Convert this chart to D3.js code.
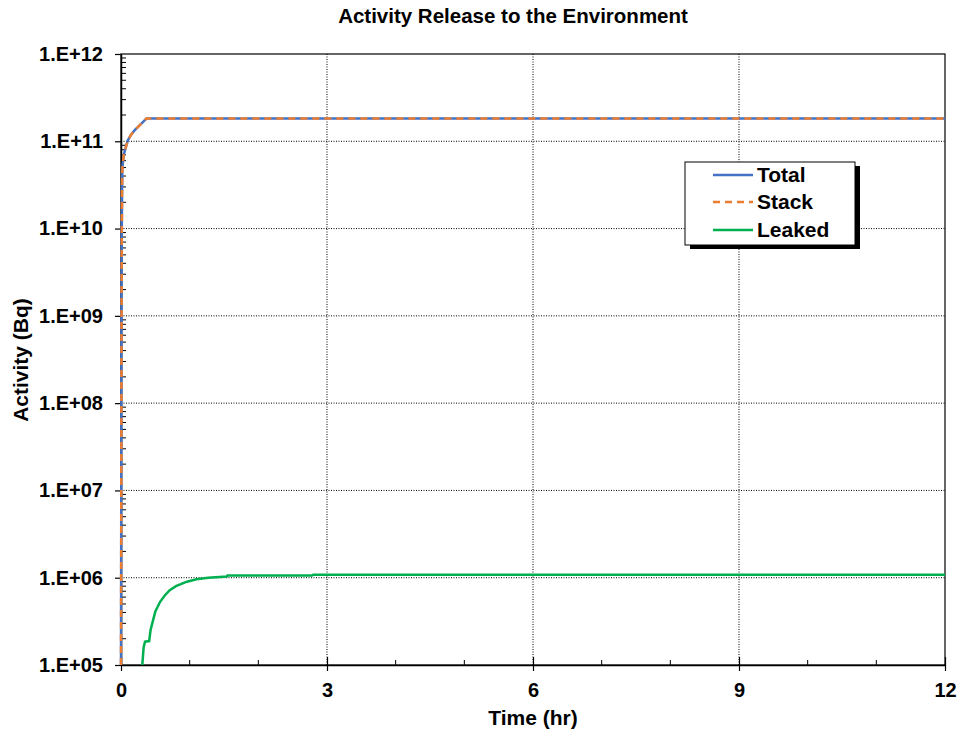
<!DOCTYPE html>
<html>
<head>
<meta charset="utf-8">
<script src="https://cdn.jsdelivr.net/npm/d3@7"></script>
<style>
  html, body { margin: 0; padding: 0; background: #fff; }
  svg { display: block; }
  text { font-family: "Liberation Sans", Arial, sans-serif; font-weight: bold; fill: #000; }
</style>
</head>
<body>
<svg id="chart" width="961" height="734"></svg>
<script>
// ---- data ----
const seriesNames = ["Total", "Stack", "Leaked"];
const totalTime   = [0, 0.004, 0.008, 0.012, 0.016, 0.02, 0.04, 0.06, 0.1, 0.15, 0.2, 0.3, 0.37, 12];
const totalValues = [1e5, 1e7, 1e9, 1e10, 3e10, 5e10, 7e10, 8e10, 1.03e11, 1.2e11, 1.34e11, 1.6e11, 1.82e11, 1.82e11];
const stackTime   = [0, 0.004, 0.008, 0.012, 0.016, 0.02, 0.04, 0.06, 0.1, 0.15, 0.2, 0.3, 0.37, 12];
const stackValues = [1e5, 1e7, 1e9, 1e10, 3e10, 5e10, 7e10, 8e10, 1.03e11, 1.2e11, 1.34e11, 1.6e11, 1.82e11, 1.82e11];
const leakedTime   = [0.31, 0.33, 0.35, 0.41, 0.43, 0.46, 0.5, 0.57, 0.64, 0.71, 0.8, 0.96, 1.1, 1.27, 1.54, 1.55, 2.78, 2.8, 12];
const leakedValues = [1.0e5, 1.6e5, 1.85e5, 1.88e5, 2.5e5, 3.1e5, 4.1e5, 5.3e5, 6.3e5, 7.2e5, 8.0e5, 9.0e5, 9.6e5, 1.0e6, 1.03e6, 1.06e6, 1.06e6, 1.08e6, 1.08e6];
const xTickValues = [0, 3, 6, 9, 12];
const xMinorTicks = [1, 2, 4, 5, 7, 8, 10, 11];
const yTickValues = [1e5, 1e6, 1e7, 1e8, 1e9, 1e10, 1e11, 1e12];
const yTickLabels = ["1.E+05", "1.E+06", "1.E+07", "1.E+08", "1.E+09", "1.E+10", "1.E+11", "1.E+12"];
const titleText = "Activity Release to the Environment";
const xLabel = "Time (hr)";
const yLabel = "Activity (Bq)";

// ---- layout ----
const L = 121, R = 945, T = 54, B = 665;
const colors = { Total: "#4472C4", Stack: "#ED7D31", Leaked: "#00B050" };

const svg = d3.select("#chart");
const x = d3.scaleLinear().domain([0, 12]).range([L, R]);
const y = d3.scaleLog().domain([1e5, 1e12]).range([B, T]);

// minor y ticks
const yMinor = [];
for (let e = 5; e < 12; e++) for (let m = 2; m <= 9; m++) yMinor.push(m * Math.pow(10, e));

// grid lines
const grid = svg.append("g");
grid.selectAll("line.h").data(yTickValues.slice(1, -1)).join("line")
  .attr("x1", L).attr("x2", R).attr("y1", d => y(d)).attr("y2", d => y(d))
  .attr("stroke", "#000").attr("stroke-width", 1).attr("stroke-dasharray", "1,1.5");
grid.selectAll("line.v").data(xTickValues.slice(1, -1)).join("line")
  .attr("y1", T).attr("y2", B).attr("x1", d => x(d)).attr("x2", d => x(d))
  .attr("stroke", "#000").attr("stroke-width", 1).attr("stroke-dasharray", "1,1.5");

// frame
svg.append("rect").attr("x", L).attr("y", T).attr("width", R - L).attr("height", B - T)
  .attr("fill", "none").attr("stroke", "#000").attr("stroke-width", 1.2);

// y axis
const yAxisG = svg.append("g").attr("transform", `translate(${L},0)`)
  .call(d3.axisLeft(y).tickValues(yTickValues).tickSize(6).tickSizeOuter(0)
    .tickFormat((d, i) => yTickLabels[i]).tickPadding(12));
yAxisG.select(".domain").attr("stroke-width", 1.5);
yAxisG.selectAll(".tick line").attr("stroke-width", 1.2);
yAxisG.selectAll(".tick text").style("font-size", "20px").style("font-family", "'Liberation Sans', Arial, sans-serif").style("font-weight", "bold");
svg.append("g").selectAll("line").data(yMinor).join("line")
  .attr("x1", L).attr("x2", L + 5).attr("y1", d => y(d)).attr("y2", d => y(d))
  .attr("stroke", "#000").attr("stroke-width", 1);

// x axis
const xAxisG = svg.append("g").attr("transform", `translate(0,${B})`)
  .call(d3.axisBottom(x).tickValues(xTickValues).tickSize(6).tickSizeOuter(0).tickPadding(12));
xAxisG.select(".domain").attr("stroke-width", 1.5);
xAxisG.selectAll(".tick line").attr("y1", -8).attr("stroke-width", 1.2);
xAxisG.selectAll(".tick text").style("font-size", "20px").style("font-family", "'Liberation Sans', Arial, sans-serif").style("font-weight", "bold");
svg.append("g").selectAll("line").data(xMinorTicks).join("line")
  .attr("x1", d => x(d)).attr("x2", d => x(d)).attr("y1", B).attr("y2", B - 5)
  .attr("stroke", "#000").attr("stroke-width", 1);

// series (drawn over the axes, as in the reference)
svg.append("clipPath").attr("id", "clip").append("rect")
  .attr("x", L - 3).attr("y", T).attr("width", R - L + 3).attr("height", B - T + 1);
const line = d3.line().x(d => x(d[0])).y(d => y(d[1]));
const plot = svg.append("g").attr("clip-path", "url(#clip)");
plot.append("path").attr("d", line(d3.zip(leakedTime, leakedValues)))
  .attr("fill", "none").attr("stroke", colors.Leaked).attr("stroke-width", 2.5);
plot.append("path").attr("d", line(d3.zip(totalTime, totalValues)))
  .attr("fill", "none").attr("stroke", colors.Total).attr("stroke-width", 2.5);
plot.append("path").attr("d", line(d3.zip(stackTime, stackValues)))
  .attr("fill", "none").attr("stroke", colors.Stack).attr("stroke-width", 2.5)
  .attr("stroke-dasharray", "7,5");

// titles
svg.append("text").attr("x", 513).attr("y", 23).attr("text-anchor", "middle")
  .style("font-size", "20.5px").text(titleText);
svg.append("text").attr("x", 533).attr("y", 725).attr("text-anchor", "middle")
  .style("font-size", "21px").text(xLabel);
svg.append("text").attr("transform", "translate(28,360) rotate(-90)").attr("text-anchor", "middle")
  .style("font-size", "21px").text(yLabel);

// legend
const lg = svg.append("g");
lg.append("rect").attr("x", 690).attr("y", 166).attr("width", 170).attr("height", 83).attr("fill", "#000");
lg.append("rect").attr("x", 685).attr("y", 162).attr("width", 170).attr("height", 83)
  .attr("fill", "#fff").attr("stroke", "#000").attr("stroke-width", 1);
const rowY = [175, 202, 230];
seriesNames.forEach((name, i) => {
  lg.append("line").attr("x1", 713).attr("x2", 753).attr("y1", rowY[i]).attr("y2", rowY[i])
    .attr("stroke", colors[name]).attr("stroke-width", 2.5)
    .attr("stroke-dasharray", name === "Stack" ? "7,5" : null);
  lg.append("text").attr("x", 757).attr("y", rowY[i] + 7).style("font-size", "21px").text(name);
});
</script>
</body>
</html>
